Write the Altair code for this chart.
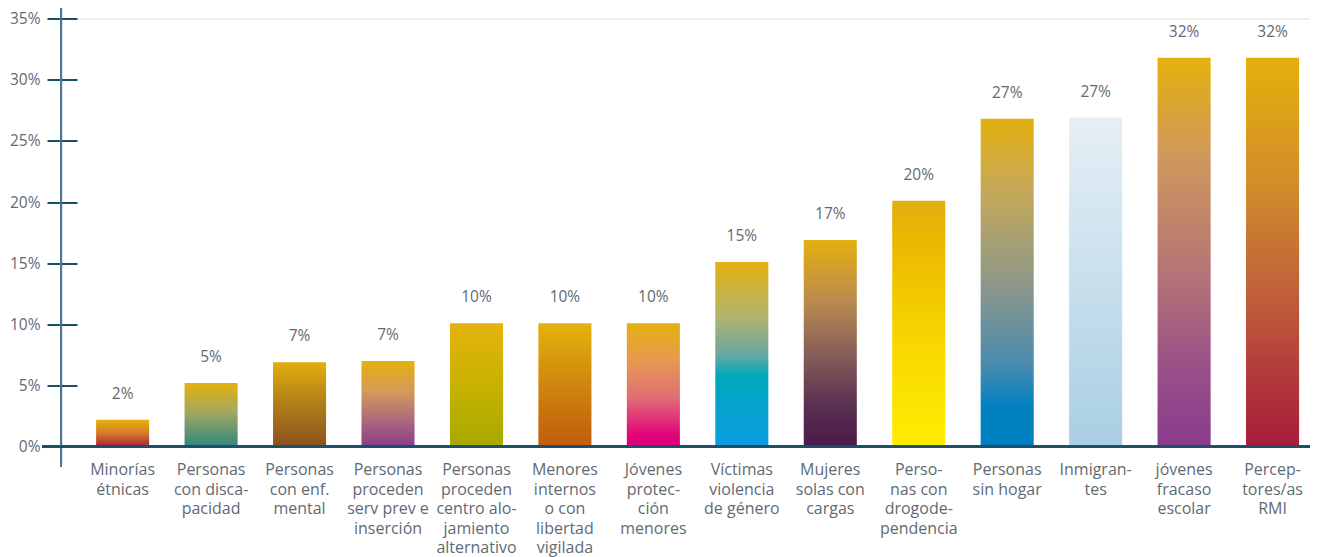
import altair as alt
import pandas as pd

categories = [
    "Minorías|étnicas",
    "Personas|con disca-|pacidad",
    "Personas|con enf.|mental",
    "Personas|proceden|serv prev e|inserción",
    "Personas|proceden|centro alo-|jamiento|alternativo",
    "Menores|internos|o con|libertad|vigilada",
    "Jóvenes|protec-|ción|menores",
    "Víctimas|violencia|de género",
    "Mujeres|solas con|cargas",
    "Perso-|nas con|drogode-|pendencia",
    "Personas|sin hogar",
    "Inmigran-|tes",
    "jóvenes|fracaso|escolar",
    "Percep-|tores/as|RMI",
]
values = [2.2, 5.2, 6.9, 7.0, 10.1, 10.1, 10.1, 15.1, 16.9, 20.1, 26.8, 26.9, 31.8, 31.8]
value_labels = ["2%", "5%", "7%", "7%", "10%", "10%", "10%", "15%", "17%", "20%", "27%", "27%", "32%", "32%"]
y_ticks = [0, 5, 10, 15, 20, 25, 30, 35]

# gradient stops per bar (top -> bottom)
gradients = [
    [("#e5b20c", 0), ("#d77a2a", 0.5), ("#ad1f3a", 1)],
    [("#e5b20c", 0), ("#a4a860", 0.45), ("#2f8680", 1)],
    [("#e2ae0e", 0), ("#b07d1a", 0.5), ("#8a521f", 1)],
    [("#e4b00f", 0), ("#d49a5a", 0.35), ("#b0707a", 0.65), ("#8a3c8c", 1)],
    [("#e5b30e", 0), ("#c8b200", 0.5), ("#a8a800", 1)],
    [("#e4b30f", 0), ("#d0850c", 0.5), ("#bf5d0e", 1)],
    [("#e4b10f", 0), ("#e69a50", 0.3), ("#e06f75", 0.6), ("#e1007a", 0.92), ("#e2007a", 1)],
    [("#e5b10f", 0), ("#b0b46f", 0.3), ("#6aa8a0", 0.5), ("#00a8bc", 0.62), ("#0a9de0", 1)],
    [("#e5b00f", 0), ("#b98a50", 0.3), ("#865e58", 0.55), ("#5a3050", 0.8), ("#4a1a4a", 1)],
    [("#e3ae10", 0), ("#eab700", 0.15), ("#f8d800", 0.6), ("#ffee00", 1)],
    [("#e3ae0d", 0), ("#c8aa55", 0.2), ("#8e9888", 0.5), ("#4a8bb0", 0.75), ("#0082c0", 0.88), ("#0080c0", 1)],
    [("#e6eff6", 0), ("#a9cfe3", 1)],
    [("#e4b10c", 0), ("#d0985c", 0.25), ("#b57475", 0.55), ("#9a4f88", 0.8), ("#8a3a8c", 1)],
    [("#e5b00c", 0), ("#d08a2c", 0.35), ("#c0603a", 0.6), ("#a81c3a", 1)],
]

df = pd.DataFrame({"cat": categories, "val": values, "lab": value_labels})

W = 1249
H = 428.2
TEXT = "#5f6a73"
FONT = "Open Sans"

x_scale = alt.Scale(domain=categories, paddingInner=0.4, paddingOuter=0.26, align=0.763)
y_scale = alt.Scale(domain=[0, 35], nice=False)

x_enc = alt.X(
    "cat:N", scale=x_scale, title=None,
    axis=alt.Axis(
        labelExpr="split(datum.label, '|')",
        labelAngle=0, labelBaseline="top", labelPadding=15,
        labelLineHeight=19.5, labelFontSize=16, labelColor=TEXT, labelFont=FONT,
        labelLimit=0, ticks=False, domain=False, labelAlign="center",
    ),
)
y_enc = alt.Y(
    "val:Q", scale=y_scale, title=None,
    axis=alt.Axis(
        values=y_ticks, labelExpr="datum.value + '%'", offset=-16,
        tickSize=30, tickWidth=2, tickColor="#1d4f6a", domain=False, grid=False,
        labelPadding=7, labelFontSize=15.5, labelColor=TEXT, labelFont=FONT,
    ),
)

layers = []
for i, cat in enumerate(categories):
    grad = alt.Gradient(
        gradient="linear", x1=0, x2=0, y1=0, y2=1,
        stops=[alt.GradientStop(color=c, offset=o) for c, o in gradients[i]],
    )
    layer = alt.Chart(df).transform_filter(
        alt.datum.cat == cat
    ).mark_bar(color=grad).encode(x=x_enc, y=y_enc)
    layers.append(layer)

labels = alt.Chart(df).mark_text(
    baseline="middle", dy=-26, fontSize=15.5, color=TEXT, font=FONT
).encode(x=alt.X("cat:N", scale=x_scale), y=alt.Y("val:Q", scale=y_scale), text="lab:N")

vline = alt.Chart(df).mark_rule(color="#4a7a93", strokeWidth=2).encode(
    x=alt.value(0), y=alt.value(-12), y2=alt.value(H + 20)
)
baseline = alt.Chart(df).mark_rule(color="#1d4f6a", strokeWidth=2).encode(
    x=alt.value(-19), x2=alt.value(W), y=alt.value(H)
)

chart = alt.layer(*layers, labels, vline, baseline).properties(
    width=W, height=H,
    autosize=alt.AutoSizeParams(type="none"),
    padding={"left": 53, "top": 10.5, "right": 0, "bottom": 112},
).configure_view(stroke=None).configure(background="white")

chart.save("out.html", embed_options={"renderer": "svg", "actions": False})
